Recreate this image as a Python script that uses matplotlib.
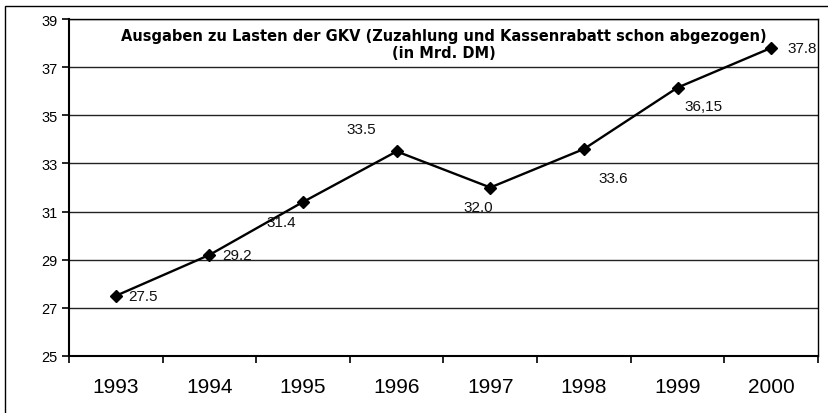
import matplotlib

matplotlib.use("Agg")
import matplotlib.pyplot as plt
from matplotlib.patches import Rectangle

years = ["1993", "1994", "1995", "1996", "1997", "1998", "1999", "2000"]
values = [27.5, 29.2, 31.4, 33.5, 32.0, 33.6, 36.15, 37.8]
labels = ["27.5", "29.2", "31.4", "33.5", "32.0", "33.6", "36,15", "37.8"]
# label offsets in points relative to each marker (dx, dy), and horizontal alignment
offsets = [(9, 0, "left"), (9.5, 0, "left"), (-16, -14.5, "center"), (-25.5, 16, "center"),
           (-8.5, -13.7, "center"), (21, -21, "center"), (19, -13, "center"), (11.5, 0, "left")]
yticks = [25, 27, 29, 31, 33, 35, 37, 39]
title = "Ausgaben zu Lasten der GKV (Zuzahlung und Kassenrabatt schon abgezogen)\n(in Mrd. DM)"

plt.rcParams["font.family"] = ["Liberation Sans", "DejaVu Sans"]

fig = plt.figure(figsize=(8.29, 4.14), dpi=100)
ax = fig.add_axes([69 / 829, 1 - 357 / 414, 749 / 829, 337 / 414])

x = list(range(len(years)))
ax.plot(x, values, color="black", linewidth=1.7, marker="D", markersize=6,
        markerfacecolor="black", markeredgecolor="black", zorder=3)

for xi, v, lab, (dx, dy, ha) in zip(x, values, labels, offsets):
    ax.annotate(lab, (xi, v), xytext=(dx, dy), textcoords="offset points",
                ha=ha, va="center", fontsize=11, color="#111111")

ax.set_xlim(-0.5, len(years) - 0.5)
ax.set_ylim(25, 39)
ax.set_yticks(yticks)
ax.set_yticklabels([str(t) for t in yticks], fontsize=10.5)
ax.yaxis.grid(True, color="#222222", linewidth=1.0)
ax.set_axisbelow(True)

ax.set_xticks(x)
ax.set_xticklabels(years, fontsize=15)
ax.tick_params(axis="x", length=0, pad=15)
ax.set_xticks([i + 0.5 for i in x[:-1]] + [-0.5, len(years) - 0.5], minor=True)
ax.tick_params(axis="x", which="minor", length=5, width=1.2, direction="out")
ax.tick_params(axis="y", length=5, width=1.2, direction="out", pad=3)

for side in ["left", "bottom"]:
    ax.spines[side].set_linewidth(1.5)
for side in ["right", "top"]:
    ax.spines[side].set_linewidth(1.0)

ax.text(0.5, 0.972, title, transform=ax.transAxes, ha="center", va="top",
        fontsize=10.5, fontweight="bold", linespacing=1.1,
        family=["DejaVu Sans"])

# outer frame (only left and top edges lie inside the image)
fig.patches.append(Rectangle((5 / 829, -0.1), 1.1, 1 - 7 / 414 + 0.1,
                             transform=fig.transFigure, fill=False,
                             edgecolor="black", linewidth=1.0))

fig.savefig("out.png", dpi=100)
